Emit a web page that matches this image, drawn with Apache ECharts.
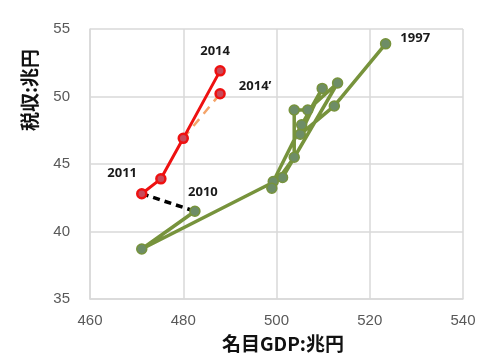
<!DOCTYPE html>
<html><head><meta charset="utf-8">
<script src="https://cdn.jsdelivr.net/npm/echarts@6/dist/echarts.min.js"></script>
<style>html,body{margin:0;padding:0;background:#fff}#c{width:500px;height:363px}</style>
</head><body><div id="c"></div>
<script>
// Green series 1997-2010: nominal GDP (trillion yen), tax revenue (trillion yen)
const greenYears = [1997,1998,1999,2000,2001,2002,2003,2004,2005,2006,2007,2008,2009,2010];
const greenGDP   = [523.4,512.4,505.1,509.8,505.4,499.3,499.0,503.8,503.8,506.7,513.1,501.3,471.1,482.5];
const greenTax   = [53.9, 49.3, 47.2, 50.6, 47.9, 43.7, 43.2, 45.5, 49.0, 49.0, 51.0, 44.0, 38.7, 41.5];
// Red series 2011-2014
const redYears = [2011,2012,2013,2014];
const redGDP   = [471.1,475.2,480.0,487.9];
const redTax   = [42.8, 43.9, 46.9, 51.9];
// Alternative 2014'
const altGDP = [480.0,487.9];
const altTax = [46.9, 50.2];
// Link 2010 -> 2011
const linkGDP = [471.1,482.5];
const linkTax = [42.8, 41.5];
const xTicks = [460,480,500,520,540];
const yTicks = [35,40,45,50,55];

const zip = (a,b)=>a.map((v,i)=>[v,b[i]]);
const chart = echarts.init(document.getElementById('c'));
const lblStyle = {show:true,color:'#1a1a1a',fontSize:13,fontFamily:'Open Sans',fontWeight:'bold'};
const greenData = zip(greenGDP,greenTax).map((p,i)=>{
  const y = greenYears[i];
  const o = {value:p};
  if (y===1997) o.label = Object.assign({},lblStyle,{formatter:'1997',position:'right',offset:[4,-6]});
  if (y===2010) o.label = Object.assign({},lblStyle,{formatter:'2010',position:'top',offset:[8,-2]});
  return o;
});
const redData = zip(redGDP,redTax).map((p,i)=>{
  const y = redYears[i];
  const o = {value:p};
  if (y===2011) o.label = Object.assign({},lblStyle,{formatter:'2011',position:'left',offset:[6,-20]});
  if (y===2014) o.label = Object.assign({},lblStyle,{formatter:'2014',position:'top',offset:[-5,-2]});
  return o;
});
const altData = zip(altGDP,altTax).map((p,i)=>{
  const o = {value:p};
  if (i===0) o.symbol = 'none';
  if (i===1) o.label = Object.assign({},lblStyle,{formatter:"2014\u2019",position:'right',offset:[8,-8]});
  return o;
});
chart.setOption({
  animation:false,
  grid:{left:90,right:37,top:29,bottom:64},
  xAxis:{type:'value',min:xTicks[0],max:xTicks[xTicks.length-1],interval:20,
    axisLine:{show:true,lineStyle:{color:'#d9d9d9',width:1.5}},axisTick:{show:false},
    axisLabel:{color:'#595959',fontSize:15,fontFamily:'Liberation Sans',margin:14},
    splitLine:{show:true,lineStyle:{color:'#d9d9d9',width:1.5}}},
  yAxis:{type:'value',min:yTicks[0],max:yTicks[yTicks.length-1],interval:5,
    axisLine:{show:true,lineStyle:{color:'#d9d9d9',width:1.5}},axisTick:{show:false},
    axisLabel:{color:'#595959',fontSize:15,fontFamily:'Liberation Sans',margin:20},
    splitLine:{show:true,lineStyle:{color:'#d9d9d9',width:1.5}}},
  graphic:[
    {type:'text',x:30,y:90,rotation:Math.PI/2,style:{text:'税収:兆円',fill:'#111',font:'bold 19px "Noto Sans CJK JP"',textAlign:'center',textVerticalAlign:'middle'}},
    {type:'text',x:283,y:344,style:{text:'名目GDP:兆円',fill:'#111',font:'bold 19px "Noto Sans CJK JP"',textAlign:'center',textVerticalAlign:'middle'}}
  ],
  series:[
    {type:'line',data:zip(linkGDP,linkTax),symbol:'none',lineStyle:{color:'#000',width:3.5,type:[7,5]},z:1},
    {type:'line',data:greenData,symbol:'circle',symbolSize:10,
      itemStyle:{color:'#6e8d66',borderColor:'#77933c',borderWidth:1.5},
      lineStyle:{color:'#77933c',width:3.5},z:2},
    {type:'line',data:altData,symbol:'circle',symbolSize:9,
      itemStyle:{color:'#c84a5a',borderColor:'#ee1111',borderWidth:2.5},
      lineStyle:{color:'#f4a46a',width:2.5,type:[9,7]},z:3},
    {type:'line',data:redData,symbol:'circle',symbolSize:9,
      itemStyle:{color:'#c84a5a',borderColor:'#ee1111',borderWidth:2.5},
      lineStyle:{color:'#ee1111',width:3},z:4}
  ]
});
</script></body></html>
